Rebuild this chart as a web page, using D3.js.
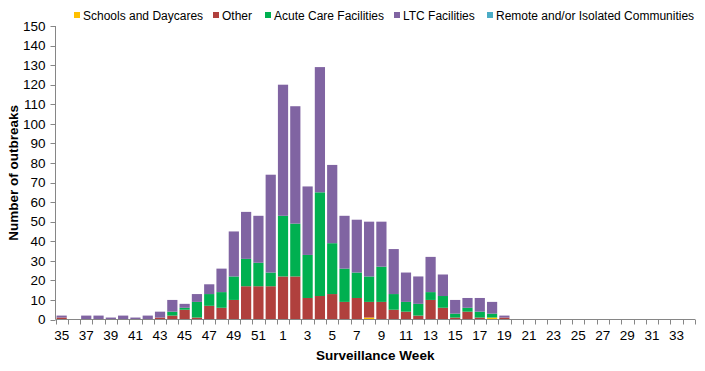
<!DOCTYPE html>
<html>
<head>
<meta charset="utf-8">
<script src="https://cdn.jsdelivr.net/npm/d3@7"></script>
<style>
  body { margin: 0; background: #fff; }
  text { font-family: "Liberation Sans", Arial, sans-serif; }
</style>
</head>
<body>
<div id="chart"></div>
<script>
const weeks = [35,36,37,38,39,40,41,42,43,44,45,46,47,48,49,50,51,52,
  1,2,3,4,5,6,7,8,9,10,11,12,13,14,15,16,17,18,19,20,21,22,23,24,25,26,27,28,29,30,31,32,33,34]

const schools = [0,0,0,0,0,0,0,0,0,0,0,0,0,0,0,0,0,0,
  0,0,0,0,0,0,0,1,0,0,0,0,0,0,0,0,0,1,0,0,0,0,0,0,0,0,0,0,0,0,0,0,0,0]
const other = [1,0,0,0,0,0,0,0,1,2,5,1,7,6,10,17,17,17,
  22,22,11,12,13,9,11,8,9,5,4,2,10,6,1,4,1,0,1,0,0,0,0,0,0,0,0,0,0,0,0,0,0,0]
const acute = [0,0,0,0,0,0,0,0,0,2,1,8,6,8,12,14,12,7,
  31,27,22,53,26,17,13,13,18,8,5,6,4,6,2,2,3,2,0,0,0,0,0,0,0,0,0,0,0,0,0,0,0,0]
const ltc = [1,0,2,2,1,2,1,2,3,6,2,4,5,12,23,24,24,50,
  67,60,35,64,40,27,27,28,23,23,15,14,18,11,7,5,7,6,1,0,0,0,0,0,0,0,0,0,0,0,0,0,0,0]
const remote = weeks.map(() => 0)

const seriesNames = ['Schools and Daycares', 'Other', 'Acute Care Facilities', 'LTC Facilities', 'Remote and/or Isolated Communities']
const seriesValues = [schools, other, acute, ltc, remote]
const colors = ['#FFC000', '#B0403D', '#00B050', '#8064A2', '#4BACC6']
const yTicks = d3.range(0, 151, 10)

const width = 705, height = 371
const m = { left: 55.5, right: 10, top: 26, bottom: 51.5 }

const svg = d3.select('#chart').append('svg')
  .attr('width', width)
  .attr('height', height)

const rows = weeks.map((w, i) => {
  const r = { week: String(w) + '_' + i, label: w }
  seriesNames.forEach((s, k) => { r[s] = seriesValues[k][i] })
  return r
})

const x = d3.scaleBand()
  .domain(rows.map(d => d.week))
  .range([m.left, width - m.right])
  .paddingInner(0.17)
  .paddingOuter(0.085)

const y = d3.scaleLinear()
  .domain([0, 150])
  .range([height - m.bottom, m.top])

const stacked = d3.stack().keys(seriesNames)(rows)

svg.append('g')
  .selectAll('g')
  .data(stacked)
  .join('g')
  .attr('fill', (d, i) => colors[i])
  .selectAll('rect')
  .data(d => d)
  .join('rect')
  .attr('x', d => x(d.data.week))
  .attr('width', x.bandwidth())
  .attr('y', d => y(d[1]))
  .attr('height', d => y(d[0]) - y(d[1]))

// axes
const axisColor = '#868686'
const bottom = height - m.bottom

svg.append('line')
  .attr('x1', m.left).attr('x2', width - m.right)
  .attr('y1', bottom).attr('y2', bottom)
  .attr('stroke', axisColor)

svg.append('line')
  .attr('x1', m.left).attr('x2', m.left)
  .attr('y1', m.top).attr('y2', bottom)
  .attr('stroke', axisColor)

// x ticks sit on the band boundaries
const bandEdge = i => Math.round(m.left + i * (width - m.right - m.left) / weeks.length) + 0.5
svg.append('g')
  .selectAll('line')
  .data(d3.range(weeks.length + 1))
  .join('line')
  .attr('x1', bandEdge)
  .attr('x2', bandEdge)
  .attr('y1', bottom)
  .attr('y2', bottom + 5)
  .attr('stroke', axisColor)

svg.append('g')
  .selectAll('text')
  .data(rows.filter((d, i) => i % 2 === 0))
  .join('text')
  .attr('x', d => x(d.week) + x.bandwidth() / 2)
  .attr('y', bottom + 20)
  .attr('text-anchor', 'middle')
  .attr('font-size', 13.5)
  .attr('fill', '#000')
  .text(d => d.label)

// y ticks
svg.append('g')
  .selectAll('line')
  .data(yTicks)
  .join('line')
  .attr('x1', m.left - 5).attr('x2', m.left)
  .attr('y1', d => Math.round(y(d)) + 0.5)
  .attr('y2', d => Math.round(y(d)) + 0.5)
  .attr('stroke', axisColor)

svg.append('g')
  .selectAll('text')
  .data(yTicks)
  .join('text')
  .attr('x', m.left - 10)
  .attr('y', d => y(d))
  .attr('dy', '0.35em')
  .attr('text-anchor', 'end')
  .attr('font-size', 13.5)
  .attr('fill', '#000')
  .text(d => d)

// titles
svg.append('text')
  .attr('x', (m.left + width - m.right) / 2)
  .attr('y', 360)
  .attr('text-anchor', 'middle')
  .attr('font-size', 13.5)
  .attr('font-weight', 'bold')
  .text('Surveillance Week')

svg.append('text')
  .attr('transform', `translate(18, ${(m.top + bottom) / 2}) rotate(-90)`)
  .attr('text-anchor', 'middle')
  .attr('font-size', 13.5)
  .attr('font-weight', 'bold')
  .text('Number of outbreaks')

// legend
const legendX = [74, 213, 265, 394, 487]
const legend = svg.append('g')
  .selectAll('g')
  .data(seriesNames)
  .join('g')
  .attr('transform', (d, i) => `translate(${legendX[i]}, 16)`)

legend.append('rect')
  .attr('x', 0).attr('y', -4)
  .attr('width', 6).attr('height', 6)
  .attr('fill', (d, i) => colors[i])

legend.append('text')
  .attr('x', 9)
  .attr('y', 0)
  .attr('dy', '0.35em')
  .attr('font-size', 12)
  .attr('fill', '#000')
  .text(d => d)
</script>
</body>
</html>
